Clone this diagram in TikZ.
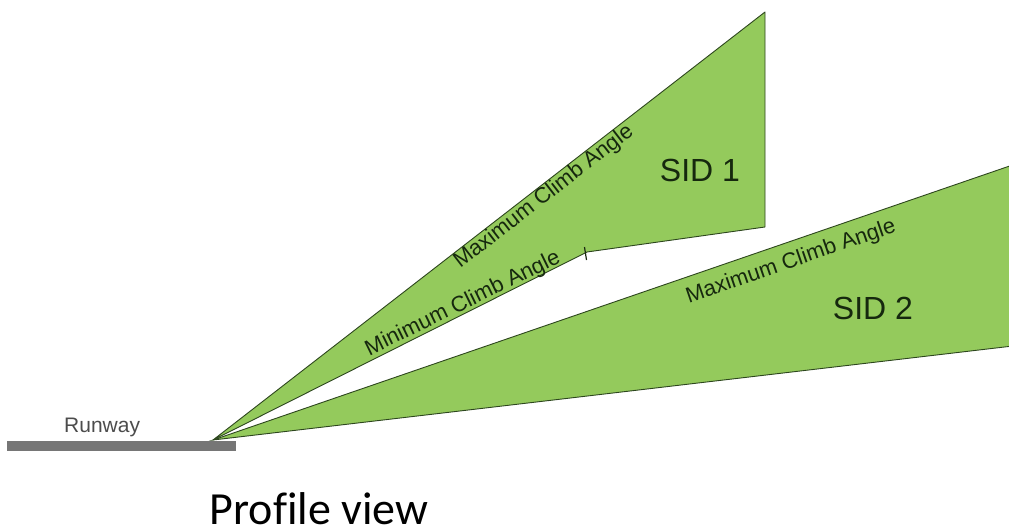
\documentclass[tikz,border=0pt]{standalone}
\usepackage{fontspec}
\setmainfont{Liberation Sans}
\newfontfamily\captionfont[Ligatures=NoCommon]{Carlito}
\begin{document}
\begin{tikzpicture}[x=1pt,y=-1pt,
  sector/.style={fill=sidgreen,draw=edgegreen,line width=0.9pt,line join=round},
  edgelabel/.style={text=labeltext,font=\fontsize{22}{22}\selectfont,inner sep=0pt},
  sidlabel/.style={text=labeltext,font=\fontsize{32}{32}\selectfont,inner sep=0pt},
]
\definecolor{sidgreen}{RGB}{148,202,92}
\definecolor{edgegreen}{RGB}{45,70,30}
\definecolor{labeltext}{RGB}{22,40,14}
\definecolor{runwaygray}{RGB}{118,118,118}
\useasboundingbox (0,0) rectangle (1009,529);
\clip (0,0) rectangle (1009,529);

% key points of the departure profile
\coordinate (apex) at (213,440);
\coordinate (s1top) at (765,12);
\coordinate (s1bot) at (765,227);
\coordinate (kink) at (587,252);

% runway strip
\fill[runwaygray] (7,441) rectangle (236,451);
\node[text=black!70,font=\fontsize{21}{21}\selectfont,anchor=base west,inner sep=0pt] (runway) at (64,432) {Runway};

% SID 2 wedge (right side runs off the page)
\fill[sidgreen] (apex) -- (1030,159) -- (1030,344) -- cycle;
\draw[edgegreen,line width=0.9pt] (1030,159) -- (apex) -- (1030,344);

% SID 1 wedge
\draw[sector] (apex) -- (s1top) -- (s1bot) -- (kink) -- cycle;
\draw[edgegreen!60!black,line width=1.2pt] (584.5,247) -- (586.5,260);

% labels
\node[edgelabel,rotate=37.7] (max1) at (544,197) {Maximum Climb Angle};
\node[edgelabel,rotate=26] (min1) at (463,304) {Minimum Climb Angle};
\node[sidlabel] (sid1) at (700,170) {SID 1};
\node[edgelabel,rotate=19] (max2) at (791,262) {Maximum Climb Angle};
\node[sidlabel] (sid2) at (873,308) {SID 2};

\node[font=\captionfont\fontsize{46}{46}\selectfont,anchor=base,inner sep=0pt] (caption) at (319,524) {Profile view};
\end{tikzpicture}
\end{document}
